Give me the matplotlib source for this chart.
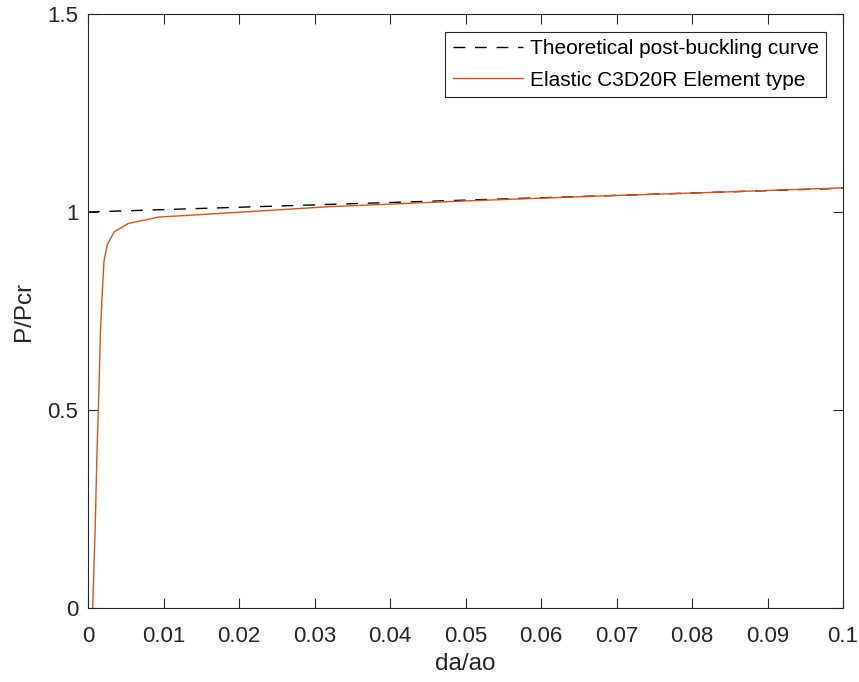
import matplotlib
matplotlib.use('Agg')
import matplotlib.pyplot as plt

plt.rcParams['font.family'] = ['Liberation Sans', 'DejaVu Sans']

# theoretical post-buckling curve
theory_x = [0.0, 0.1]
theory_y = [1.0, 1.06]

# FE result, elastic C3D20R
fe_x = [0.00062, 0.00095, 0.0012, 0.00145, 0.00165, 0.0019, 0.00212, 0.00256,
        0.00348, 0.00534, 0.00931, 0.0188, 0.032, 0.05, 0.068, 0.085, 0.1]
fe_y = [0.0, 0.2, 0.4, 0.55, 0.7, 0.8, 0.876, 0.918,
        0.950, 0.971, 0.987, 0.998, 1.0135, 1.028, 1.0405, 1.051, 1.061]

axis_col = (0.15, 0.15, 0.15)

fig = plt.figure(figsize=(8.59, 6.82), dpi=100)
ax = fig.add_axes([88 / 859, 1 - 608 / 682, (843 - 88) / 859, (608 - 14) / 682])

ax.plot(theory_x, theory_y, color='black', lw=1.0, ls=(0, (8.5, 7)),
        label='Theoretical post-buckling curve')
ax.plot(fe_x, fe_y, color='#D95319', lw=1.0, label='Elastic C3D20R Element type')

ax.set_xlim(0, 0.1)
ax.set_ylim(0, 1.5)
ax.set_xticks([0, 0.01, 0.02, 0.03, 0.04, 0.05, 0.06, 0.07, 0.08, 0.09, 0.1])
ax.set_xticklabels(['0', '0.01', '0.02', '0.03', '0.04', '0.05', '0.06',
                    '0.07', '0.08', '0.09', '0.1'])
ax.set_yticks([0, 0.5, 1, 1.5])
ax.set_yticklabels(['0', '0.5', '1', '1.5'])

ax.tick_params(direction='in', length=7, width=0.8, top=True, right=True,
               labelsize=16, colors=axis_col)
ax.tick_params(axis='x', pad=13)
ax.tick_params(axis='y', pad=7)
for s in ax.spines.values():
    s.set_color(axis_col)
    s.set_linewidth(0.8)

ax.set_xlabel('da/ao', fontsize=17.5, color=axis_col, labelpad=4)
ax.set_ylabel('P/Pcr', fontsize=17.5, color=axis_col, labelpad=9)

leg = ax.legend(loc='upper right', bbox_to_anchor=(0.9775, 0.970), fontsize=15,
                fancybox=False, framealpha=1, edgecolor=axis_col,
                handlelength=3.4, handletextpad=0.3, borderpad=0.35,
                labelspacing=0.6, borderaxespad=0)
leg.get_frame().set_linewidth(0.8)

fig.savefig('out.png', dpi=100)
